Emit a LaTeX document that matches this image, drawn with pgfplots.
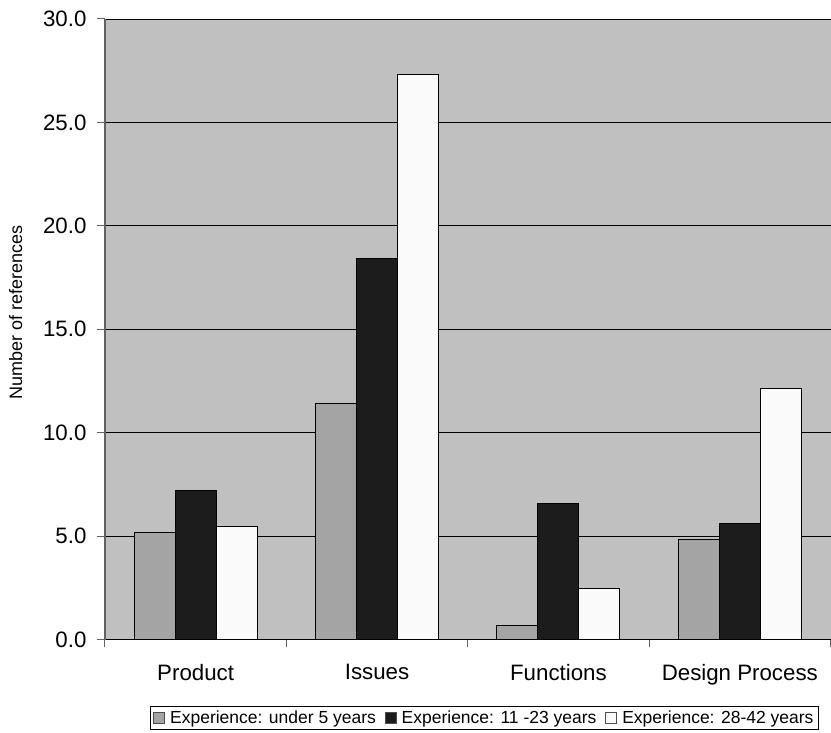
\documentclass[border=0pt]{standalone}
\usepackage{pgfplots}
\pgfplotsset{compat=1.18}
\usepackage{fontspec}
\setmainfont{Liberation Sans}
\definecolor{bg}{HTML}{C0C0C0}
\definecolor{g1}{HTML}{A4A4A4}
\definecolor{g2}{HTML}{1C1C1C}
\definecolor{g3}{HTML}{FAFAFA}
\begin{document}
\begin{tikzpicture}
\begin{axis}[
  name=ax,
  scale only axis, width=726pt, height=621pt,
  xmin=-0.5, xmax=3.5, ymin=0, ymax=30,
  ybar=0pt, bar width=0.226,
  axis background/.style={fill=bg},
  axis x line*=bottom, axis y line*=left,
  x axis line style={-, draw=black, line width=1pt},
  y axis line style={-, draw=black!62, line width=1.5pt},
  tick align=outside,
  xtick={0,1,2,3},
  xticklabels={Product,Issues,Functions,Design Process},
  major x tick style={draw=none},
  major tick length=8pt,
  minor tick length=7pt,
  minor xtick={-0.5,0.5,1.5,2.5,3.5},
  minor x tick style={draw=black!62, line width=1pt},
  major y tick style={draw=black!62, line width=1pt},
  ytick={0,5,...,30},
  /pgf/number format/assume math mode=true,
  yticklabel style={/pgf/number format/fixed, /pgf/number format/fixed zerofill, /pgf/number format/precision=1, xshift=-7pt},
  ticklabel style={font=\fontsize{22.3}{25}\selectfont},
  xticklabel style={yshift=-13pt},
  ymajorgrids,
  major grid style={draw=black, line width=0.8pt},
  ylabel={Number of references},
  ylabel style={font=\fontsize{18}{20}\selectfont, at={(ticklabel cs:0.527)}, yshift=14pt},
  legend columns=3,
  legend style={at={(0.523,-0.126)}, anchor=center, draw=black, line width=0.6pt,
    font=\fontsize{17.5}{20}\selectfont, inner xsep=3pt, inner ysep=2pt,
    /tikz/every odd column/.append style={column sep=3pt},
    /tikz/every even column/.append style={column sep=7pt}},
  legend image code/.code={\draw[#1, draw=black!70, line width=0.8pt] (0pt,-5.5pt) rectangle (11pt,5.5pt);},
]
\addplot[fill=g1, draw=black, line width=1pt] coordinates {(0,5.2) (1,11.4) (2,0.7) (3,4.85)};
\addplot[fill=g2, draw=black, line width=1pt] coordinates {(0,7.2) (1,18.4) (2,6.6) (3,5.6)};
\addplot[fill=g3, draw=black, line width=1pt] coordinates {(0,5.45) (1,27.3) (2,2.45) (3,12.15)};
\legend{Experience: under 5 years, Experience: 11 -23 years, Experience: 28-42 years}
\end{axis}
\path (ax.south west) ++(-105pt,-93pt) coordinate (bl);
\path (ax.north east) ++(0pt,19pt) coordinate (tr);
\path (bl) rectangle (tr);
\end{tikzpicture}
\end{document}
